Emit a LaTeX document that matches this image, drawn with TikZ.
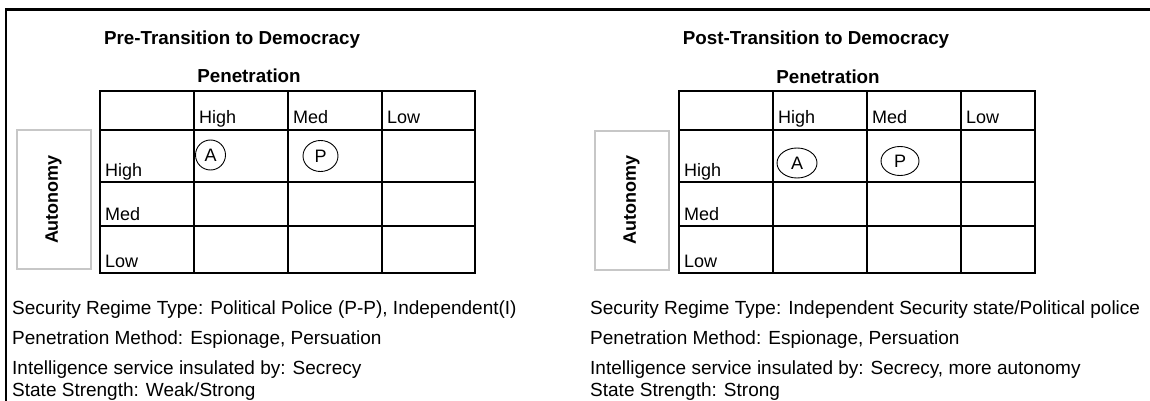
\documentclass[tikz,border=0pt]{standalone}
\usepackage{fontspec}
\setmainfont{Liberation Sans}
\usetikzlibrary{shapes.geometric}
\begin{document}
\begin{tikzpicture}[x=1pt, y=-1pt]
	\tikzstyle{tablegrid} = [line width=2.6pt, black, line cap=rect]
	\tikzstyle{celltext}  = [anchor=base west, inner sep=0pt, font=\fontsize{18}{20}\selectfont]
	\tikzstyle{note}      = [anchor=base west, inner sep=0pt, font=\fontsize{19}{21}\selectfont]
	\tikzstyle{heading}   = [anchor=base, inner sep=0pt, font=\fontsize{18.8}{20}\selectfont\bfseries]
	\tikzstyle{agency}    = [ellipse, draw=black, line width=0.9pt, inner sep=0pt, font=\fontsize{18}{20}\selectfont]
	\tikzstyle{axisbox}   = [draw=black!22, line width=2pt, rotate=90, minimum width=139pt, minimum height=74pt, font=\fontsize{18}{20}\selectfont\bfseries]

	\useasboundingbox (0,0) rectangle (1150,401);
	\draw[line width=2.7pt] (6,401) -- (6,9.5) -- (1150,9.5);

	% pre-transition
	\node[heading] (preTitle) at (232,45) {Pre-Transition to Democracy};
	\node[heading] (prePen) at (249,83) {Penetration};
	\foreach \x in {100,194,288,382,475}
		\draw[tablegrid] (\x,91) -- (\x,273);
	\foreach \y in {91,130,182,226,273}
		\draw[tablegrid] (100,\y) -- (475,\y);
	\foreach \name/\text/\x/\y in {preColH/High/199/124, preColM/Med/293/124, preColL/Low/387/124,
			preRowH/High/105/176, preRowM/Med/105/220, preRowL/Low/105/267}
		\node[celltext] (\name) at (\x,\y) {\text};
	\node[axisbox] (preAuto) at (53.5,199.5) {Autonomy};
	\node[agency, minimum width=30pt, minimum height=30pt] (preA) at (210.5,155) {A};
	\node[agency, minimum width=35pt, minimum height=31pt] (preP) at (320.5,156) {P};
	\foreach \name/\y/\text in {preType/314/{Security Regime Type: Political Police (P-P), Independent(I)},
			preMethod/344/{Penetration Method: Espionage, Persuation},
			preShield/374/{Intelligence service insulated by: Secrecy},
			preState/396/{State Strength: Weak/Strong}}
		\node[note] (\name) at (12,\y) {\text};

	% post-transition
	\node[heading] (postTitle) at (816,45) {Post-Transition to Democracy};
	\node[heading] (postPen) at (828,84) {Penetration};
	\foreach \x in {679,773,867,961,1035}
		\draw[tablegrid] (\x,91) -- (\x,273);
	\foreach \y in {91,130,182,226,273}
		\draw[tablegrid] (679,\y) -- (1035,\y);
	\foreach \name/\text/\x/\y in {postColH/High/778/124, postColM/Med/872/124, postColL/Low/966/124,
			postRowH/High/684/176, postRowM/Med/684/220, postRowL/Low/684/267}
		\node[celltext] (\name) at (\x,\y) {\text};
	\node[axisbox] (postAuto) at (631.5,200) {Autonomy};
	\node[agency, minimum width=40pt, minimum height=30pt] (postA) at (797,163) {A};
	\node[agency, minimum width=38pt, minimum height=29pt] (postP) at (900,161) {P};
	\foreach \name/\y/\text in {postType/314/{Security Regime Type: Independent Security state/Political police},
			postMethod/344/{Penetration Method: Espionage, Persuation},
			postShield/374/{Intelligence service insulated by: Secrecy, more autonomy},
			postState/396/{State Strength: Strong}}
		\node[note] (\name) at (590,\y) {\text};
\end{tikzpicture}
\end{document}
